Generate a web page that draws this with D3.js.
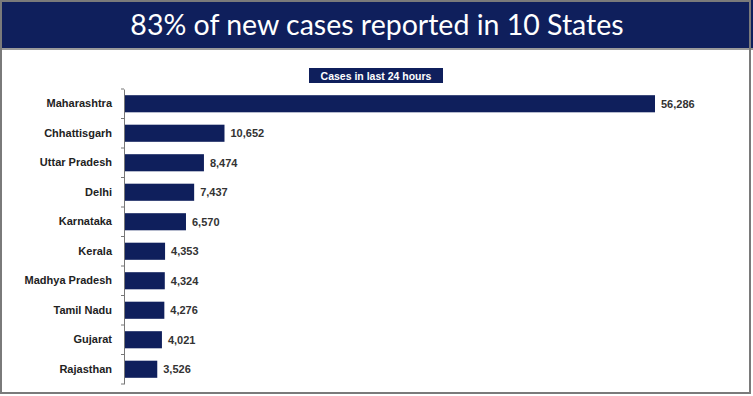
<!DOCTYPE html>
<html><head><meta charset="utf-8">
<script src="https://cdn.jsdelivr.net/npm/d3@7"></script>
<style>html,body{margin:0;padding:0;background:#fff}svg{display:block}</style>
</head><body>
<script>
const states = ["Maharashtra","Chhattisgarh","Uttar Pradesh","Delhi","Karnataka","Kerala","Madhya Pradesh","Tamil Nadu","Gujarat","Rajasthan"];
const cases = [56286,10652,8474,7437,6570,4353,4324,4276,4021,3526];
const title = "83% of new cases reported in 10 States";
const subtitle = "Cases in last 24 hours";

const W = 753, H = 396;
const navy = "#0f1f5c";
const svg = d3.select("body").append("svg").attr("width", W).attr("height", H);

// frame
svg.append("rect").attr("x",0).attr("y",0).attr("width",W).attr("height",H).attr("fill","#fff");
// header band
svg.append("rect").attr("x",0).attr("y",0).attr("width",W).attr("height",48).attr("fill",navy);
svg.append("line").attr("x1",0).attr("x2",W).attr("y1",49).attr("y2",49).attr("stroke","#9a9a9a").attr("stroke-width",2);
svg.append("rect").attr("x",1).attr("y",1).attr("width",W-4).attr("height",H-4)
  .attr("fill","none").attr("stroke","#7a7a7a").attr("stroke-width",2);
svg.append("text").attr("x",377).attr("y",35).attr("text-anchor","middle")
  .attr("fill","#fff").attr("font-family","Lato, 'Open Sans', sans-serif").attr("font-size",28.5)
  .text(title);

// subtitle box
const sub = svg.append("g");
sub.append("rect").attr("x",309).attr("y",68).attr("width",134).attr("height",15).attr("fill",navy);
sub.append("text").attr("x",376).attr("y",79.5).attr("text-anchor","middle").attr("fill","#fff")
  .attr("font-family","'Liberation Sans', Arial, sans-serif").attr("font-weight","bold").attr("font-size",10.5)
  .text(subtitle);

const x0 = 124;
const x = d3.scaleLinear().domain([0, 56286]).range([x0, 655]);
const y = d3.scaleBand().domain(states).range([89, 384]).paddingInner(0.42).paddingOuter(0.21);

const g = svg.append("g");
g.selectAll("rect.bar").data(states).join("rect").attr("class","bar")
  .attr("x", x(0)).attr("y", d => y(d))
  .attr("width", (d,i) => x(cases[i]) - x(0)).attr("height", y.bandwidth())
  .attr("fill", navy);

// axis
const ax = g.append("g").attr("transform",`translate(${x0},0)`)
  .call(d3.axisLeft(y).tickSize(0).tickPadding(12));
ax.select(".domain").attr("stroke","#777").attr("stroke-width",1);
ax.selectAll("text").attr("font-family","'Liberation Sans', Arial, sans-serif")
  .attr("font-weight","bold").attr("font-size",11).attr("fill","#222");
// band boundary ticks
const step = y.step();
const bounds = d3.range(states.length + 1).map(i => 89 + i * step);
g.selectAll("line.tk").data(bounds).join("line").attr("class","tk")
  .attr("x1", x0 - 3).attr("x2", x0).attr("y1", d => d).attr("y2", d => d)
  .attr("stroke","#777");

// value labels
const fmt = d3.format(",");
g.selectAll("text.val").data(states).join("text").attr("class","val")
  .attr("x", (d,i) => x(cases[i]) + 6).attr("y", d => y(d) + y.bandwidth()/2)
  .attr("dy","0.35em").attr("font-family","'Liberation Sans', Arial, sans-serif")
  .attr("font-weight","bold").attr("font-size",11).attr("fill","#333")
  .text((d,i) => fmt(cases[i]));
</script>
</body></html>
